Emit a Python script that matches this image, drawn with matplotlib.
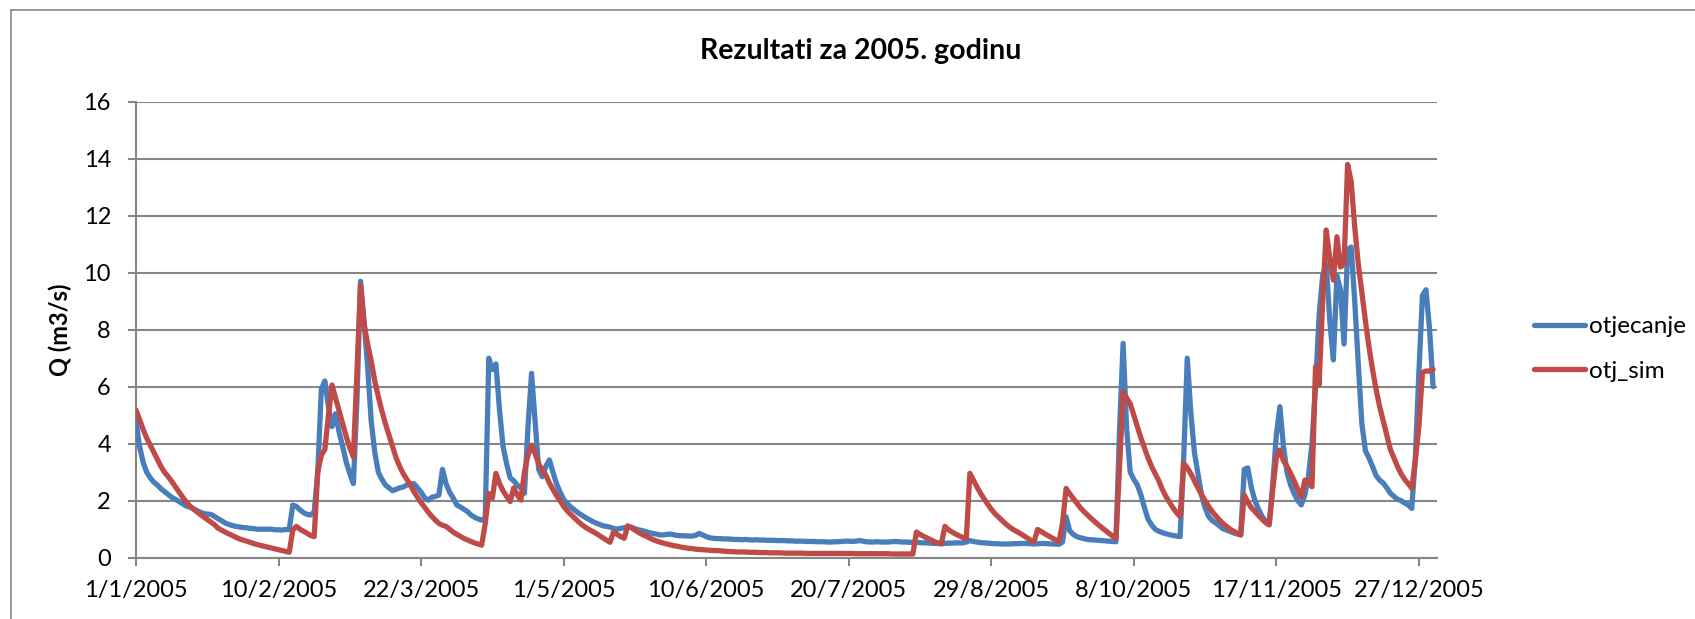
import numpy as np
import matplotlib
matplotlib.use("Agg")
import matplotlib.pyplot as plt
from matplotlib.lines import Line2D

plt.rcParams['font.family'] = ['Lato', 'DejaVu Sans']

# daily discharge 2005, day 0 = 1/1/2005
otjecanje = [
    4.8, 3.9, 3.35, 3.0, 2.8, 2.65, 2.55, 2.42, 2.32, 2.22,
    2.12, 2.05, 1.98, 1.9, 1.82, 1.78, 1.72, 1.66, 1.6, 1.55,
    1.53, 1.52, 1.45, 1.37, 1.3, 1.22, 1.17, 1.13, 1.1, 1.08,
    1.06, 1.05, 1.03, 1.02, 1.0, 1.0, 1.0, 1.0, 1.0, 0.98,
    0.98, 0.97, 0.99, 0.99, 1.85, 1.8, 1.68, 1.58, 1.52, 1.5,
    1.6, 3.0, 5.9, 6.2, 5.3, 4.6, 5.05, 4.4, 3.9, 3.35,
    2.95, 2.6, 5.5, 9.7, 8.3, 6.7, 4.8, 3.7, 3.0, 2.75,
    2.55, 2.45, 2.35, 2.4, 2.45, 2.48, 2.55, 2.58, 2.6, 2.45,
    2.3, 2.1, 2.02, 2.12, 2.15, 2.2, 3.1, 2.6, 2.3, 2.1,
    1.85, 1.78, 1.7, 1.62, 1.5, 1.42, 1.36, 1.32, 1.4, 7.0,
    6.6, 6.8, 5.2, 3.9, 3.3, 2.8, 2.7, 2.55, 2.45, 2.26,
    4.6, 6.47, 4.8, 3.1, 2.84, 3.2, 3.43, 3.0, 2.6, 2.3,
    2.05, 1.9, 1.78, 1.68, 1.58, 1.5, 1.42, 1.35, 1.28, 1.22,
    1.17, 1.12, 1.1, 1.07, 1.03, 1.0, 1.03, 1.05, 1.08, 1.07,
    1.02, 0.98, 0.95, 0.92, 0.88, 0.85, 0.83, 0.8, 0.8, 0.82,
    0.83, 0.8, 0.78, 0.77, 0.77, 0.76, 0.76, 0.78, 0.85, 0.8,
    0.74, 0.7, 0.68, 0.67, 0.67, 0.66, 0.66, 0.65, 0.64, 0.64,
    0.63, 0.64, 0.63, 0.62, 0.63, 0.62, 0.62, 0.61, 0.61, 0.61,
    0.6, 0.6, 0.6, 0.59, 0.59, 0.58, 0.58, 0.58, 0.57, 0.57,
    0.57, 0.56, 0.56, 0.56, 0.55, 0.55, 0.56, 0.56, 0.57, 0.58,
    0.58, 0.57, 0.58, 0.6, 0.58, 0.56, 0.55, 0.55, 0.56, 0.55,
    0.55, 0.55, 0.56, 0.57, 0.56, 0.55, 0.55, 0.54, 0.54, 0.53,
    0.53, 0.52, 0.52, 0.51, 0.5, 0.5, 0.49, 0.5, 0.51, 0.51,
    0.52, 0.52, 0.52, 0.55, 0.6, 0.57, 0.55, 0.53, 0.52, 0.51,
    0.5, 0.49, 0.49, 0.48, 0.48, 0.48, 0.49, 0.49, 0.5, 0.5,
    0.5, 0.49, 0.48, 0.49, 0.5, 0.5, 0.49, 0.48, 0.48, 0.47,
    0.55, 1.44, 0.95, 0.82, 0.74, 0.7, 0.67, 0.64, 0.63, 0.62,
    0.61, 0.6, 0.59, 0.58, 0.57, 0.56, 4.5, 7.52, 4.5, 3.0,
    2.75, 2.55, 2.2, 1.75, 1.35, 1.15, 1.0, 0.93, 0.88, 0.84,
    0.81, 0.78, 0.76, 0.74, 3.5, 7.0, 5.1, 3.7, 2.95, 2.2,
    1.75, 1.45, 1.3, 1.22, 1.12, 1.02, 0.97, 0.92, 0.87, 0.83,
    0.8, 3.1, 3.15, 2.45, 2.0, 1.7, 1.45, 1.28, 1.2, 2.6,
    4.3, 5.3, 3.9, 3.0, 2.55, 2.25, 2.0, 1.85, 2.2, 2.84,
    4.0, 6.0, 8.5, 9.9, 10.3, 8.3, 6.94, 9.9, 9.4, 7.5,
    10.8, 10.9, 9.0, 6.8, 4.7, 3.75, 3.5, 3.2, 2.88, 2.72,
    2.62, 2.45, 2.26, 2.15, 2.05, 2.0, 1.92, 1.85, 1.73, 3.5,
    6.5, 9.2, 9.4, 8.0, 6.0,
]

otj_sim = [
    5.18, 4.85, 4.5, 4.2, 3.95, 3.7, 3.45, 3.2, 3.0, 2.85,
    2.68, 2.5, 2.32, 2.14, 1.97, 1.83, 1.72, 1.62, 1.52, 1.43,
    1.34, 1.25, 1.16, 1.04, 0.97, 0.9, 0.84, 0.78, 0.72, 0.66,
    0.62, 0.58, 0.54, 0.5, 0.46, 0.43, 0.4, 0.37, 0.34, 0.31,
    0.28, 0.25, 0.22, 0.19, 0.97, 1.1, 1.0, 0.93, 0.86, 0.78,
    0.74, 3.0, 3.6, 3.8, 5.0, 6.06, 5.6, 5.15, 4.7, 4.25,
    3.85, 3.54, 6.5, 9.57, 8.2, 7.5, 6.9, 6.2, 5.65, 5.15,
    4.7, 4.3, 3.9, 3.5, 3.2, 2.95, 2.75, 2.55, 2.32, 2.12,
    1.93, 1.77, 1.6, 1.45, 1.32, 1.2, 1.14, 1.1, 1.0, 0.9,
    0.82, 0.75, 0.68, 0.62, 0.57, 0.52, 0.48, 0.44, 1.2, 2.25,
    2.1, 2.96, 2.6, 2.35, 2.15, 1.97, 2.45, 2.2, 2.02, 3.0,
    3.6, 3.95, 3.65, 3.31, 3.05, 2.9, 2.62, 2.4, 2.18, 2.0,
    1.8, 1.65, 1.52, 1.4, 1.28, 1.17, 1.08, 1.0, 0.93, 0.86,
    0.78, 0.7, 0.62, 0.54, 0.9, 0.82, 0.74, 0.68, 1.12, 1.05,
    0.97, 0.89, 0.82, 0.76, 0.7, 0.64, 0.59, 0.55, 0.51, 0.48,
    0.45, 0.42, 0.4, 0.37, 0.35, 0.33, 0.32, 0.3, 0.29, 0.28,
    0.27, 0.26, 0.25, 0.25, 0.24, 0.23, 0.22, 0.21, 0.21, 0.2,
    0.2, 0.2, 0.19, 0.19, 0.19, 0.18, 0.18, 0.18, 0.17, 0.17,
    0.17, 0.17, 0.16, 0.16, 0.16, 0.16, 0.16, 0.16, 0.15, 0.15,
    0.15, 0.15, 0.15, 0.15, 0.15, 0.15, 0.15, 0.15, 0.15, 0.15,
    0.15, 0.15, 0.14, 0.14, 0.14, 0.14, 0.14, 0.14, 0.14, 0.14,
    0.14, 0.14, 0.13, 0.13, 0.13, 0.13, 0.13, 0.13, 0.13, 0.9,
    0.82, 0.75, 0.69, 0.63, 0.57, 0.52, 0.49, 1.1, 0.98, 0.9,
    0.83, 0.77, 0.71, 0.68, 2.96, 2.72, 2.48, 2.26, 2.06, 1.88,
    1.7, 1.55, 1.43, 1.31, 1.19, 1.09, 1.0, 0.93, 0.86, 0.78,
    0.7, 0.62, 0.56, 0.99, 0.92, 0.84, 0.77, 0.7, 0.63, 0.57,
    1.2, 2.43, 2.25, 2.08, 1.92, 1.75, 1.62, 1.5, 1.38, 1.27,
    1.16, 1.06, 0.96, 0.86, 0.76, 0.68, 3.2, 5.82, 5.6, 5.4,
    5.0, 4.6, 4.2, 3.85, 3.5, 3.2, 2.95, 2.7, 2.4, 2.15,
    1.95, 1.75, 1.58, 1.44, 3.31, 3.15, 2.95, 2.7, 2.45, 2.22,
    2.0, 1.8, 1.62, 1.47, 1.33, 1.2, 1.1, 1.0, 0.93, 0.86,
    0.8, 2.2, 1.95, 1.75, 1.62, 1.48, 1.35, 1.23, 1.15, 2.4,
    3.5, 3.78, 3.4, 3.2, 2.96, 2.7, 2.4, 2.14, 2.72, 2.7,
    2.49, 6.7, 6.06, 9.0, 11.5, 10.5, 9.74, 11.26, 10.2, 10.3,
    13.8, 13.2, 11.6, 10.3, 9.3, 8.3, 7.4, 6.6, 5.9, 5.3,
    4.8, 4.3, 3.8, 3.5, 3.2, 2.95, 2.75, 2.6, 2.43, 3.4,
    4.6, 6.5, 6.55, 6.55, 6.6,
]

tick_days = [0, 40, 80, 120, 160, 200, 240, 280, 320, 360]
tick_labels = ['1/1/2005', '10/2/2005', '22/3/2005', '1/5/2005', '10/6/2005',
               '20/7/2005', '29/8/2005', '8/10/2005', '17/11/2005', '27/12/2005']

W, H = 1695, 619
fig = plt.figure(figsize=(W / 100, H / 100), dpi=100)
ax = fig.add_axes([136 / W, 1 - 557.7 / H, (1436.7 - 136) / W, (557.7 - 101.7) / H])

grey = '#868686'
days = np.arange(len(otjecanje))
ax.plot(days, otjecanje, color='#4A7EBB', lw=3.8, label='otjecanje',
        solid_joinstyle='round', solid_capstyle='round', zorder=3)
ax.plot(days, otj_sim, color='#BE4B48', lw=3.8, label='otj_sim',
        solid_joinstyle='round', solid_capstyle='round', zorder=4)

ax.set_xlim(0, 365)
ax.set_ylim(0, 16)
ax.set_yticks(range(0, 17, 2))
ax.set_xticks(tick_days)
ax.set_xticklabels(tick_labels)
ax.yaxis.grid(True, color=grey, lw=1.5)
ax.set_axisbelow(True)
for s in ['top', 'right']:
    ax.spines[s].set_visible(False)
for s in ['left', 'bottom']:
    ax.spines[s].set_color(grey)
    ax.spines[s].set_linewidth(1.5)
ax.tick_params(axis='both', colors=grey, length=6, width=1.5, labelsize=17,
               labelcolor='black')
ax.tick_params(axis='y', pad=12)
ax.tick_params(axis='x', pad=10)

ax.set_ylabel('Q (m3/s)', fontsize=17, fontweight='bold', labelpad=8)
fig.text(861 / W, 1 - 51 / H, 'Rezultati za 2005. godinu', ha='center', va='center',
         fontsize=20.5, fontweight='bold')

ax.legend(loc='center left', bbox_to_anchor=(1522 / W, 1 - 349 / H),
          bbox_transform=fig.transFigure, frameon=False, fontsize=17.5,
          handlelength=2.1, handletextpad=0.15, labelspacing=0.95, borderpad=0)

# chart area border (left and top edges visible)
fig.add_artist(Line2D([10.5 / W, 10.5 / W], [0, 1 - 9.5 / H], transform=fig.transFigure,
                      color=grey, lw=1.2))
fig.add_artist(Line2D([10.5 / W, 1], [1 - 9.5 / H, 1 - 9.5 / H], transform=fig.transFigure,
                      color=grey, lw=1.2))

fig.savefig('out.png', dpi=100)
